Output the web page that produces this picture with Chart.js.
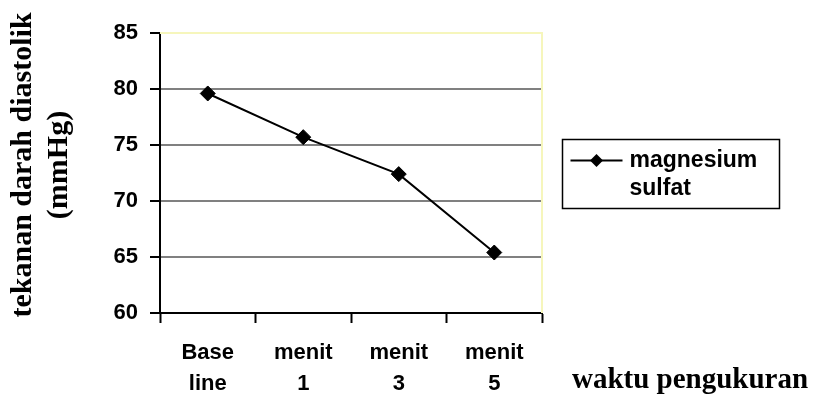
<!DOCTYPE html>
<html>
<head>
<meta charset="utf-8">
<title>tekanan darah diastolik</title>
<script src="https://cdn.jsdelivr.net/npm/chart.js@4/dist/chart.umd.min.js"></script>
<style>
  html, body { margin: 0; padding: 0; background: #ffffff; }
  #wrap { width: 819px; height: 398px; }
</style>
</head>
<body>
<div id="wrap"><canvas id="chart" width="819" height="398"></canvas></div>
<script>
// Measurement times (two-line labels) and mean diastolic pressure
const categories = [['Base', 'line'], ['menit', '1'], ['menit', '3'], ['menit', '5']];
const seriesName = 'magnesium sulfat';
const diastolic = [79.6, 75.7, 72.4, 65.4];
const yTicks = [60, 65, 70, 75, 80, 85];
const yTitle = ['tekanan darah diastolik', '(mmHg)'];
const xTitle = 'waktu pengukuran';

const SANS = '"Liberation Sans", Arial, sans-serif';
const SERIF = '"Liberation Serif", "Times New Roman", serif';
const PLOT_EDGE = '#f6f6bc';

// Pale top/right frame of the plot area
const frameEdges = {
  id: 'frameEdges',
  beforeDatasetsDraw(chart) {
    const { ctx, chartArea: a } = chart;
    ctx.save();
    ctx.strokeStyle = PLOT_EDGE;
    ctx.lineWidth = 2;
    ctx.beginPath();
    ctx.moveTo(a.left, a.top);
    ctx.lineTo(a.right, a.top);
    ctx.lineTo(a.right, a.bottom);
    ctx.stroke();
    ctx.restore();
  }
};

// Axis captions: rotated two-line title on the left, x caption right of the tick labels
const axisCaptions = {
  id: 'axisCaptions',
  afterDraw(chart) {
    const { ctx, chartArea: a } = chart;
    ctx.save();
    ctx.fillStyle = '#000';

    ctx.font = 'bold 29px ' + SERIF;
    ctx.textAlign = 'left';
    ctx.textBaseline = 'alphabetic';
    ctx.fillText(xTitle, a.right + 30, 388);

    ctx.save();
    ctx.translate(23.5, (a.top + a.bottom) / 2 - 8);
    ctx.rotate(-Math.PI / 2);
    ctx.font = 'bold 30px ' + SERIF;
    ctx.textAlign = 'center';
    ctx.textBaseline = 'middle';
    yTitle.forEach((line, i) => ctx.fillText(line, 0, i * 35.5));
    ctx.restore();

    ctx.restore();
  }
};

// Boxed legend with the series name wrapped onto two lines
const boxLegend = {
  id: 'boxLegend',
  afterDraw(chart) {
    const { ctx, chartArea: a } = chart;
    const ds = chart.data.datasets[0];
    const words = ds.label.split(' ');
    const left = a.right + 20.5, top = 139.5, w = 217, h = 69;
    ctx.save();
    ctx.strokeStyle = '#000';
    ctx.lineWidth = 1.5;
    ctx.strokeRect(left, top, w, h);

    const rowY = top + 21;
    ctx.lineWidth = 2;
    ctx.beginPath();
    ctx.moveTo(left + 8, rowY);
    ctx.lineTo(left + 60, rowY);
    ctx.stroke();
    const cx = left + 34, r = 6.5;
    ctx.fillStyle = '#000';
    ctx.beginPath();
    ctx.moveTo(cx, rowY - r);
    ctx.lineTo(cx + r, rowY);
    ctx.lineTo(cx, rowY + r);
    ctx.lineTo(cx - r, rowY);
    ctx.closePath();
    ctx.fill();

    ctx.font = 'bold 23px ' + SANS;
    ctx.textAlign = 'left';
    ctx.textBaseline = 'middle';
    words.forEach((word, i) => ctx.fillText(word, left + 67, rowY + i * 28));
    ctx.restore();
  }
};

new Chart(document.getElementById('chart'), {
  type: 'line',
  data: {
    labels: categories,
    datasets: [{
      label: seriesName,
      data: diastolic,
      borderColor: '#000',
      borderWidth: 2,
      backgroundColor: '#000',
      pointStyle: 'rectRot',
      pointRadius: 7.5,
      pointHoverRadius: 7.5,
      pointBorderWidth: 1,
      pointBackgroundColor: '#000',
      pointBorderColor: '#000',
      tension: 0,
      fill: false
    }]
  },
  options: {
    responsive: false,
    animation: false,
    devicePixelRatio: 1,
    layout: { padding: { top: 33, right: 277, bottom: 0, left: 0 } },
    plugins: {
      legend: { display: false },
      tooltip: { enabled: false }
    },
    scales: {
      x: {
        type: 'category',
        offset: true,
        afterFit(scale) { scale.height = 85; },
        grid: {
          offset: true,
          drawOnChartArea: false,
          drawTicks: true,
          tickLength: 10,
          tickColor: '#000',
          tickWidth: 2
        },
        border: { color: '#000', width: 2 },
        ticks: {
          color: '#000',
          padding: 14,
          maxRotation: 0,
          autoSkip: false,
          font: { family: SANS, size: 22, weight: 'bold', lineHeight: '31px' }
        }
      },
      y: {
        min: yTicks[0],
        max: yTicks[yTicks.length - 1],
        afterFit(scale) { scale.width = 160; },
        afterBuildTicks(scale) { scale.ticks = yTicks.map(v => ({ value: v })); },
        grid: {
          color: ctx => {
            const v = ctx.tick ? ctx.tick.value : null;
            if (v === yTicks[yTicks.length - 1]) return PLOT_EDGE;
            if (v === yTicks[0]) return 'rgba(0,0,0,0)';
            return '#808080';
          },
          lineWidth: 2,
          drawTicks: true,
          tickLength: 10,
          tickColor: '#000',
          tickWidth: 2
        },
        border: { color: '#000', width: 2 },
        ticks: {
          color: '#000',
          padding: 12,
          font: { family: SANS, size: 22, weight: 'bold' }
        }
      }
    }
  },
  plugins: [frameEdges, axisCaptions, boxLegend]
});
</script>
</body>
</html>
